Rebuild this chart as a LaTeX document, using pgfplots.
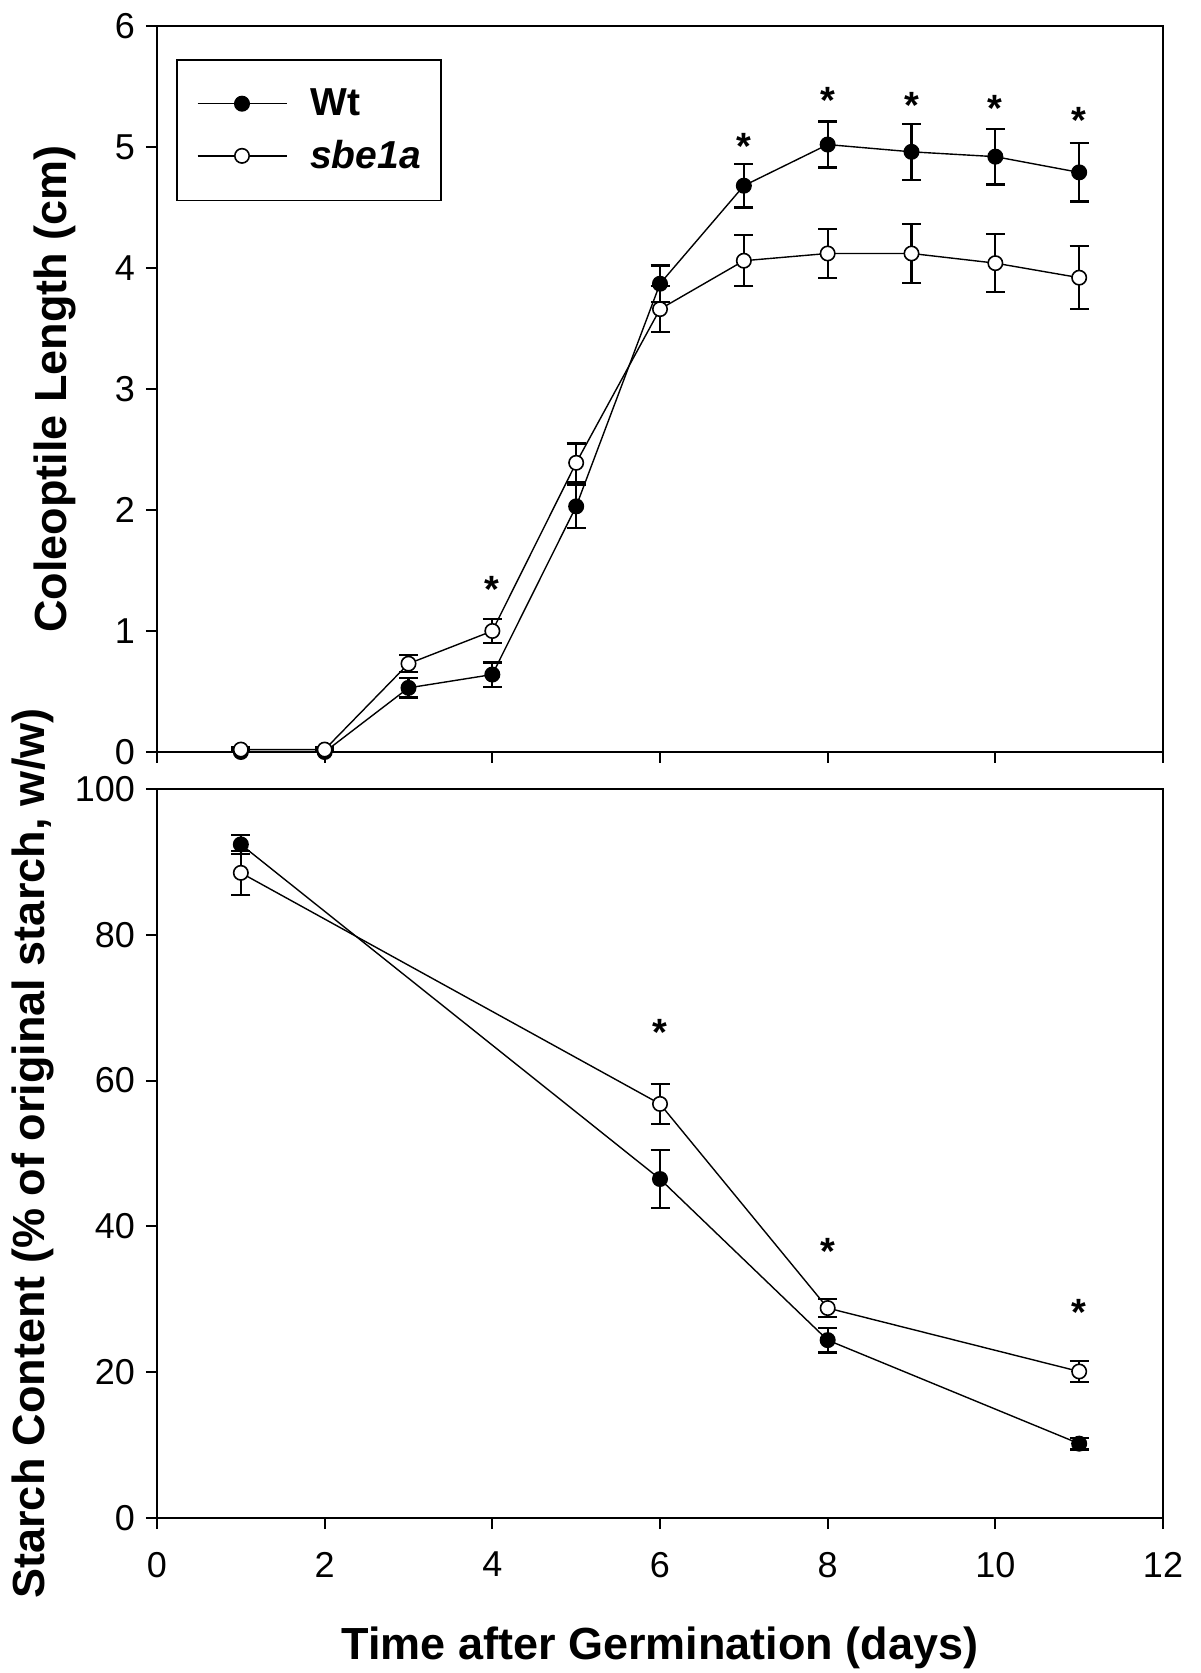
\documentclass[border=0pt]{standalone}
\usepackage{pgfplots}
\pgfplotsset{compat=1.18}
\usepackage{fontspec}
\setmainfont{Liberation Sans}
\begin{document}
\begin{tikzpicture}
\useasboundingbox (-78.5pt,-460.5pt) rectangle (521.5pt,376pt);
\pgfplotsset{
  myaxis/.style={
    scale only axis,
    width=503pt,
    xmin=0, xmax=12,
    xtick={0,2,...,12},
    axis line style={line width=1pt},
    tick style={line width=1pt, black},
    tick align=outside,
    xtick pos=bottom, ytick pos=left,
    major tick length=5.5pt,
    /pgf/number format/assume math mode=true,
    tick label style={font=\fontsize{18}{20}\selectfont},
    xticklabel style={yshift=-8pt},
    yticklabel style={xshift=-2pt},
    label style={font=\fontsize{22.5}{26}\selectfont\bfseries},
    legend image code/.code={\draw[##1, mark repeat=2, mark phase=2] plot coordinates {(0pt,0pt) (22.25pt,0pt) (44.5pt,0pt)};},
  },
  wt/.style={black, line width=0.7pt, mark=*, mark size=3.6pt,
     mark options={fill=black, line width=0.8pt},
     error bars/.cd, y dir=both, y explicit,
     error bar style={line width=1.1pt},
     error mark options={rotate=90, mark size=4.75pt, line width=1.1pt}},
  sb/.style={black, line width=0.7pt, mark=*, mark size=3.6pt,
     mark options={fill=white, line width=0.8pt},
     error bars/.cd, y dir=both, y explicit,
     error bar style={line width=1.1pt},
     error mark options={rotate=90, mark size=4.75pt, line width=1.1pt}},
  stars/.style={draw=none, mark=none, forget plot,
     nodes near coords={\fontsize{19}{19}\selectfont\bfseries *},
     every node near coord/.style={anchor=base, inner sep=0pt, yshift=-11pt}},
}
\begin{axis}[myaxis,
  height=363pt,
  ymin=0, ymax=6, ytick={0,1,...,6},
  xticklabels={},
  ylabel={Coleoptile Length (cm)},
  ylabel style={at={(axis description cs:-0.101,0.5)}, anchor=center},
  legend style={at={(rel axis cs:0,1)}, xshift=9.5pt, yshift=-16.5pt, anchor=north west,
    draw=black, line width=0.8pt,
    font=\fontsize{19.5}{22}\selectfont\bfseries,
    nodes={inner sep=0pt},
    inner xsep=10pt, inner ysep=14.5pt, row sep=10.8pt,
    /tikz/every odd column/.append style={column sep=11.5pt}},
  legend cell align=left,
]
\addplot[wt] coordinates {
 (1,0) +- (0,0.02)
 (2,0) +- (0,0.02)
 (3,0.53) +- (0,0.08)
 (4,0.64) +- (0,0.10)
 (5,2.03) +- (0,0.18)
 (6,3.87) +- (0,0.15)
 (7,4.68) +- (0,0.18)
 (8,5.02) +- (0,0.19)
 (9,4.96) +- (0,0.23)
 (10,4.92) +- (0,0.23)
 (11,4.79) +- (0,0.24)
};
\addlegendentry{Wt}
\addplot[sb] coordinates {
 (1,0.02) +- (0,0.02)
 (2,0.02) +- (0,0.02)
 (3,0.73) +- (0,0.07)
 (4,1.00) +- (0,0.10)
 (5,2.39) +- (0,0.16)
 (6,3.66) +- (0,0.19)
 (7,4.06) +- (0,0.21)
 (8,4.12) +- (0,0.20)
 (9,4.12) +- (0,0.245)
 (10,4.04) +- (0,0.24)
 (11,3.92) +- (0,0.26)
};
\addlegendentry{\textit{sbe1a}}
\addplot[stars] coordinates {(4,1.42) (7,5.08) (8,5.46) (9,5.42) (10,5.39) (11,5.29)};
\end{axis}
\begin{axis}[myaxis,
  at={(0pt,-18.5pt)}, anchor=north west,
  height=364.5pt,
  ymin=0, ymax=100, ytick={0,20,...,100},
  xlabel={Time after Germination (days)},
  ylabel={Starch Content (\% of original starch, w/w)},
  ylabel style={at={(axis description cs:-0.1228,0.5)}, anchor=center},
  xlabel style={at={(axis description cs:0.5,-0.178)}, anchor=center},
]
\addplot[wt] coordinates {
 (1,92.4) +- (0,1.3)
 (6,46.5) +- (0,4.0)
 (8,24.4) +- (0,1.7)
 (11,10.2) +- (0,0.8)
};
\addplot[sb] coordinates {
 (1,88.5) +- (0,3.0)
 (6,56.8) +- (0,2.7)
 (8,28.8) +- (0,1.2)
 (11,20.1) +- (0,1.4)
};
\addplot[stars] coordinates {(6,67.9) (8,37.8) (11,29.4)};
\end{axis}
\end{tikzpicture}
\end{document}
